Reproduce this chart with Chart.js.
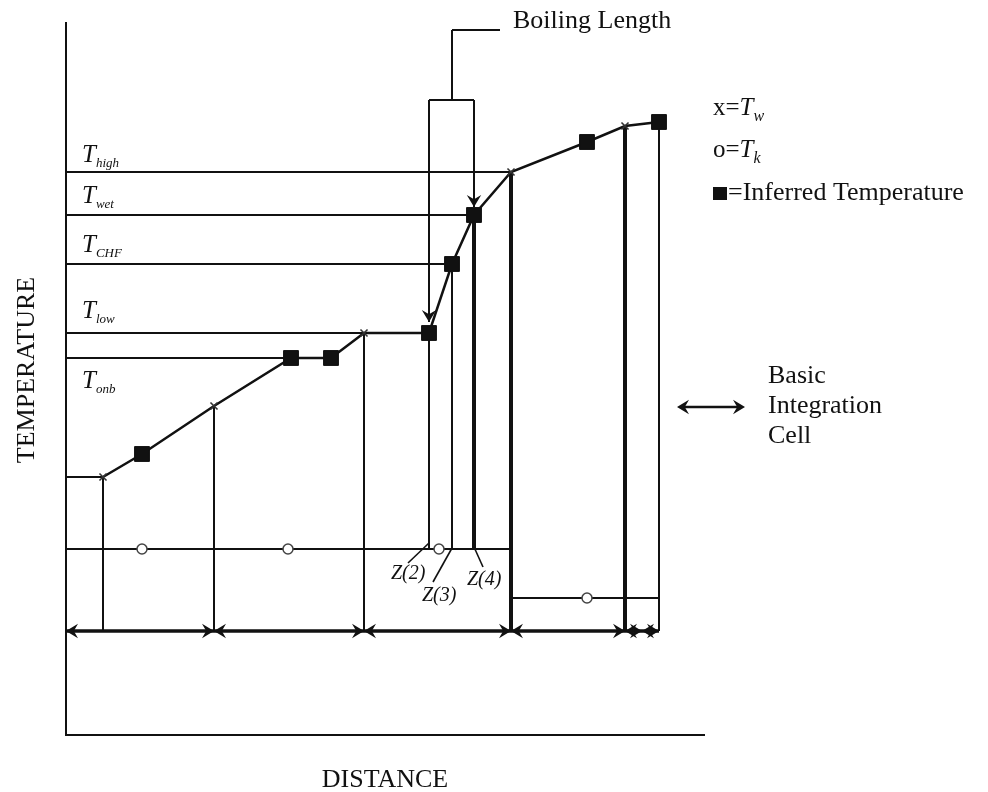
<!DOCTYPE html>
<html>
<head>
<meta charset="utf-8">
<script src="https://cdn.jsdelivr.net/npm/chart.js@4.4.1/dist/chart.umd.min.js"></script>
<style>
  html, body { margin: 0; padding: 0; background: #fff; }
  #wrap { width: 988px; height: 792px; position: relative; }
</style>
</head>
<body>
<div id="wrap"><canvas id="chart"></canvas></div>
<script>
// values, distance / temperature in arbitrary units
const twDist   = [37, 148, 298, 445, 559];           // x = T_w
const twTemp   = [258, 329, 402, 563, 609];
const infDist  = [76, 225, 265, 363, 386, 408, 521, 593];   // inferred temperature
const infTemp  = [281, 377, 377, 402, 471, 520, 593, 613];
const tkDist   = [76, 222, 373, 521];                // o = T_k
const tkTemp   = [186, 186, 186, 137];
const tkLineFrom = [0, 445];
const tkLineTo   = [445, 593];
const tkLineTemp = [186, 137];

const levelNames = ['high', 'wet', 'CHF', 'low', 'onb'];
const levelTemp  = [563, 520, 471, 402, 377];
const levelEnd   = [445, 408, 386, 363, 225];

// vertical drops from the profile
const dropDist   = [37, 148, 298, 363, 386, 408, 445, 559, 593];
const dropTop    = [258, 329, 402, 402, 471, 520, 563, 609, 613];
const dropBottom = [104, 104, 104, 186, 186, 186, 104, 104, 104];
const dropThick  = [0, 0, 0, 0, 0, 1, 1, 1, 0];

const cellEdges = [0, 148, 298, 445, 559, 576, 593];
const cellRowTemp = 104;

const zNames = ['Z(2)', 'Z(3)', 'Z(4)'];
const zDist  = [363, 386, 408];
const zLeadFromTemp = [192, 187, 188];
const zLeadDist = [342, 367, 417];
const zLeadTemp = [172, 153, 168];

const bracketTemp = 635;
const bracketStemTemp = 705;
const bracketStemEnd = 434;
const bracketTipTemp = [413, 528];

const INK = '#111';
const THIN = 2, THICK = 4;
const serif = '"Liberation Serif", "Times New Roman", serif';

const datasets = [];
function seg(x1, t1, x2, t2, width, extra) {
  datasets.push(Object.assign({
    data: [{ x: x1, y: t1 }, { x: x2, y: t2 }],
    borderColor: INK, borderWidth: width, pointRadius: 0, clip: false, order: 5
  }, extra || {}));
}

// markers on top
datasets.push({
  data: infDist.map((d, i) => ({ x: d, y: infTemp[i] })),
  showLine: false, pointStyle: 'rect', pointRadius: 10.5,
  pointBackgroundColor: INK, pointBorderColor: INK, pointBorderWidth: 1, clip: false, order: 0
});
datasets.push({
  data: twDist.map((d, i) => ({ x: d, y: twTemp[i] })),
  showLine: false, pointStyle: 'crossRot', pointRadius: 5,
  pointBorderColor: '#333', pointBorderWidth: 1.6, clip: false, order: 0
});
datasets.push({
  data: tkDist.map((d, i) => ({ x: d, y: tkTemp[i] })),
  showLine: false, pointStyle: 'circle', pointRadius: 5,
  pointBackgroundColor: '#fff', pointBorderColor: '#444', pointBorderWidth: 1.5, clip: false, order: 0
});

// temperature profile
const profile = twDist.map((d, i) => ({ x: d, y: twTemp[i] }))
  .concat(infDist.map((d, i) => ({ x: d, y: infTemp[i] })))
  .sort((a, b) => a.x - b.x);
datasets.push({ data: profile, borderColor: INK, borderWidth: 2.5, pointRadius: 0, clip: false, order: 1 });

// level lines
levelTemp.forEach((t, i) => seg(0, t, levelEnd[i], t, THIN));
seg(0, twTemp[0], twDist[0], twTemp[0], THIN);

// T_k lines
tkLineTemp.forEach((t, i) => seg(tkLineFrom[i], t, tkLineTo[i], t, THIN));

// drops
dropDist.forEach((d, i) => seg(d, dropTop[i], d, dropBottom[i], dropThick[i] ? THICK : THIN));

// cell arrows
for (let i = 0; i < cellEdges.length - 1; i++) {
  seg(cellEdges[i], cellRowTemp, cellEdges[i + 1], cellRowTemp, 3.5, { arrows: [0, 1] });
}

// boiling length bracket
seg(zDist[0], bracketTemp, zDist[2], bracketTemp, THIN);
seg(zDist[1], bracketTemp, zDist[1], bracketStemTemp, THIN);
seg(zDist[1], bracketStemTemp, bracketStemEnd, bracketStemTemp, THIN);
seg(zDist[0], bracketTemp, zDist[0], bracketTipTemp[0], THIN, { arrows: [1] });
seg(zDist[2], bracketTemp, zDist[2], bracketTipTemp[1], THIN, { arrows: [1] });

// Z leaders
zDist.forEach((d, i) => seg(d, zLeadFromTemp[i], zLeadDist[i], zLeadTemp[i], 1.6));

function arrowHead(ctx, fx, fy, tx, ty, len) {
  const ang = Math.atan2(ty - fy, tx - fx);
  ctx.save();
  ctx.translate(tx, ty);
  ctx.rotate(ang);
  ctx.beginPath();
  ctx.moveTo(0, 0);
  ctx.lineTo(-len, -len * 0.6);
  ctx.lineTo(-len * 0.65, 0);
  ctx.lineTo(-len, len * 0.6);
  ctx.closePath();
  ctx.fill();
  ctx.restore();
}

function subText(ctx, x, yb, main, sub, size, subSize, drop) {
  ctx.font = `italic ${size}px ${serif}`;
  ctx.fillText(main, x, yb);
  const w = ctx.measureText(main).width;
  ctx.font = `italic ${subSize}px ${serif}`;
  ctx.fillText(sub, x + w, yb + drop);
}

const sketchText = {
  id: 'sketchText',
  afterDatasetsDraw(chart) {
    const { ctx, chartArea: a, scales: { x, y } } = chart;
    ctx.save();
    ctx.fillStyle = INK;
    ctx.strokeStyle = INK;

    // axes
    ctx.lineWidth = 2;
    ctx.beginPath();
    ctx.moveTo(a.left, a.top);
    ctx.lineTo(a.left, a.bottom);
    ctx.lineTo(a.right, a.bottom);
    ctx.stroke();

    // arrowheads
    chart.data.datasets.forEach((ds, i) => {
      if (!ds.arrows) return;
      const pts = chart.getDatasetMeta(i).data;
      ds.arrows.forEach(end => {
        const tip = pts[end], from = pts[end === 0 ? 1 : 0];
        arrowHead(ctx, from.x, from.y, tip.x, tip.y, 12);
      });
    });

    ctx.textAlign = 'left';
    ctx.textBaseline = 'alphabetic';

    // level labels
    const labOff = [-10, -12, -12, -15, 30];
    levelNames.forEach((n, i) => {
      subText(ctx, x.getPixelForValue(0) + 16, y.getPixelForValue(levelTemp[i]) + labOff[i], 'T', n, 25, 13, 5);
    });

    // Z labels
    ctx.font = `italic 20px ${serif}`;
    const zOff = [[-38, 30], [-30, 52], [-7, 36]];
    zNames.forEach((n, i) => {
      ctx.fillText(n, x.getPixelForValue(zDist[i]) + zOff[i][0], y.getPixelForValue(tkLineTemp[0]) + zOff[i][1]);
    });

    // titles
    ctx.font = `26px ${serif}`;
    ctx.fillText('Boiling Length', 513, 28);
    ctx.textAlign = 'center';
    ctx.fillText('DISTANCE', 385, 787);
    ctx.save();
    ctx.translate(34, 370);
    ctx.rotate(-Math.PI / 2);
    ctx.fillText('TEMPERATURE', 0, 0);
    ctx.restore();

    // legend
    ctx.textAlign = 'left';
    const lx = 713;
    ctx.font = `25px ${serif}`;
    ctx.fillText('x=', lx, 115);
    let w = ctx.measureText('x=').width;
    subText(ctx, lx + w, 115, 'T', 'w', 25, 16, 6);
    ctx.font = `25px ${serif}`;
    ctx.fillText('o=', lx, 157);
    w = ctx.measureText('o=').width;
    subText(ctx, lx + w, 157, 'T', 'k', 25, 16, 6);
    ctx.fillRect(lx, 187, 14, 13);
    ctx.font = `26px ${serif}`;
    ctx.fillText('=Inferred Temperature', lx + 15, 200);

    // basic integration cell
    ctx.lineWidth = 2.5;
    ctx.beginPath();
    ctx.moveTo(682, 407);
    ctx.lineTo(740, 407);
    ctx.stroke();
    arrowHead(ctx, 720, 407, 677, 407, 12);
    arrowHead(ctx, 700, 407, 745, 407, 12);
    ctx.font = `26px ${serif}`;
    ctx.fillText('Basic', 768, 383);
    ctx.fillText('Integration', 768, 413);
    ctx.fillText('Cell', 768, 443);

    ctx.restore();
  }
};

new Chart(document.getElementById('chart'), {
  type: 'line',
  data: { datasets },
  options: {
    responsive: true,
    maintainAspectRatio: false,
    animation: false,
    events: [],
    layout: { padding: { left: 66, top: 22, right: 283, bottom: 57 } },
    plugins: { legend: { display: false }, tooltip: { enabled: false } },
    scales: {
      x: { type: 'linear', min: 0, max: 639, display: false },
      y: { type: 'linear', min: 0, max: 713, display: false }
    }
  },
  plugins: [sketchText]
});
</script>
</body>
</html>
